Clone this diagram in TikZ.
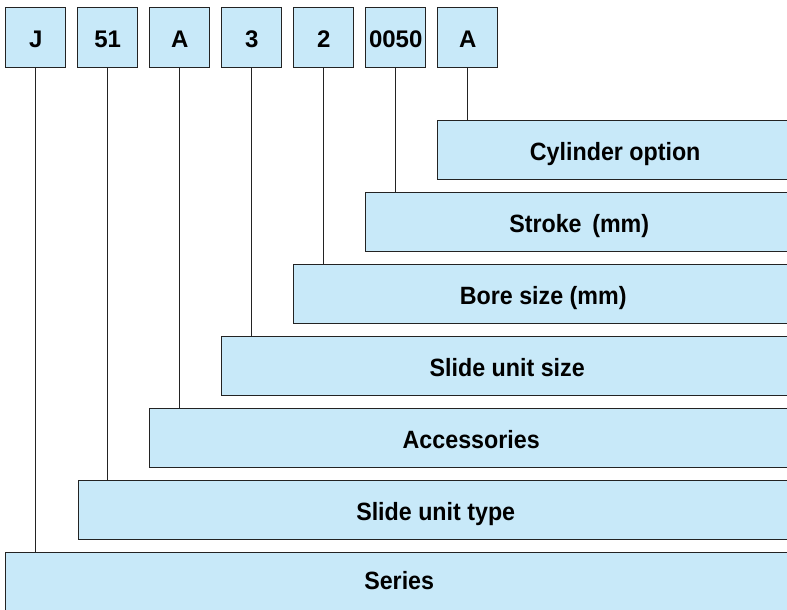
\documentclass[tikz,border=0pt]{standalone}
\usepackage{fontspec}
\setmainfont{Liberation Sans}
\newfontfamily\fieldfont[FakeStretch=0.93]{Liberation Sans}

\definecolor{boxblue}{RGB}{200,233,249}
\definecolor{edgegray}{RGB}{35,35,35}

\tikzset{every picture/.style={line width=1.2pt}}
\tikzset{
  codebox/.style={draw=edgegray, fill=boxblue, line width=1.4pt, anchor=north west,
    minimum width=60, minimum height=60, inner sep=0pt, text height=19, text depth=0,
    font=\fontsize{24}{24}\selectfont\bfseries},
  fieldbox/.style={draw=edgegray, fill=boxblue, line width=1.4pt, anchor=north west,
    minimum height=59, inner sep=0pt, text height=21, text depth=0,
    font=\fieldfont\fontsize{25}{25}\selectfont\bfseries},
  link/.style={draw=edgegray, line width=1.4pt}
}

\begin{document}
\begin{tikzpicture}[x=1pt,y=1pt,yscale=-1,xscale=1]
		\useasboundingbox (0,0) rectangle (787,610);
		\clip (0,0) rectangle (787,610);
		
		%Shape: Code boxes
		\node[codebox] (cJ) at (5,7) {J};
		\node[codebox] (cType) at (77,7) {51};
		\node[codebox] (cAcc) at (149,7) {A};
		\node[codebox] (cSize) at (221,7) {3};
		\node[codebox] (cBore) at (293,7) {2};
		\node[codebox] (cStroke) at (365,7) {0050};
		\node[codebox] (cOpt) at (437,7) {A};
		
		%Shape: Field boxes (run past the right and bottom edges)
		\node[fieldbox, minimum width=355] (fOpt) at (437,120) {Cylinder option};
		\node[fieldbox, minimum width=427] (fStroke) at (365,192) {Stroke\ \,(mm)};
		\node[fieldbox, minimum width=499] (fBore) at (293,264) {Bore size (mm)};
		\node[fieldbox, minimum width=571] (fSize) at (221,336) {Slide unit size};
		\node[fieldbox, minimum width=643] (fAcc) at (149,408) {Accessories};
		\node[fieldbox, minimum width=714] (fType) at (78,480) {Slide unit type};
		\node[fieldbox, minimum width=787, minimum height=64, text height=10] (fSeries) at (5,552) {Series};
		
		%Straight Lines
		\draw[link] (cJ.south) -- (cJ.south |- fSeries.north);
		\draw[link] (cType.south) -- (cType.south |- fType.north);
		\draw[link] (cAcc.south) -- (cAcc.south |- fAcc.north);
		\draw[link] (cSize.south) -- (cSize.south |- fSize.north);
		\draw[link] (cBore.south) -- (cBore.south |- fBore.north);
		\draw[link] (cStroke.south) -- (cStroke.south |- fStroke.north);
		\draw[link] (cOpt.south) -- (cOpt.south |- fOpt.north);
		
	\end{tikzpicture}
\end{document}
